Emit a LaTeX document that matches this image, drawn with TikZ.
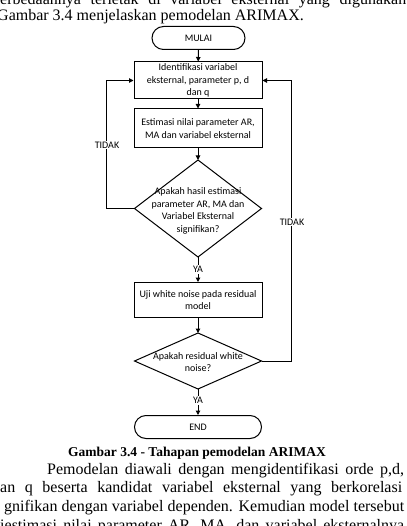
\documentclass[tikz,border=0pt]{standalone}
\usepackage{fontspec}
\setmainfont{Liberation Serif}
\newfontfamily\fc{Carlito}
\usetikzlibrary{arrows.meta,shapes.geometric}
\begin{document}
\begin{tikzpicture}[x=1pt,y=-1pt,
  flow/.style={line width=1pt},
  arr/.style={flow,-{Triangle[length=4.5pt,width=4.5pt]}},
  term/.style={draw,line width=1pt,rounded corners=11.5pt,minimum height=23pt,inner sep=0pt,font=\fc\fontsize{10}{12.5}\selectfont},
  pbox/.style={draw,line width=1pt,minimum width=128pt,inner sep=0pt,align=center,font=\fc\fontsize{10}{12.5}\selectfont},
  dshape/.style={draw,line width=1pt,diamond,inner sep=0pt,outer sep=0pt},
  dtext/.style={align=center,inner sep=0pt,font=\fc\fontsize{10}{12.5}\selectfont},
  lbl/.style={fill=white,inner sep=1pt,font=\fc\fontsize{10}{12}\selectfont},
  body/.style={anchor=base west,inner sep=0pt,font=\fontsize{16}{18}\selectfont},
  captext/.style={anchor=base,inner sep=0pt,font=\bfseries\fontsize{13.5}{16}\selectfont}
]
\path[use as bounding box] (0,0) rectangle (406,526);
\clip (0,0) rectangle (406,526);
\fill[white] (0,0) rectangle (406,526);

% surrounding page text
\node[body] (t0) at (0,4.5) {\makebox[410pt][s]{erbedaannya terletak di variabel eksternal yang digunakan.}};
\node[body] (t1) at (-3,21) {Gambar 3.4 menjelaskan pemodelan ARIMAX.};

% flowchart
\node[term,minimum width=93pt] (mulai) at (198.5,38) {MULAI};
\node[pbox,minimum height=37pt] (b1) at (198,80.5) {Identifikasi variabel\\eksternal, parameter p, d\\dan q};
\node[pbox,minimum height=39pt] (b2) at (198,128.5) {Estimasi nilai parameter AR,\\MA dan variabel eksternal};
\node[dshape,minimum width=127pt,minimum height=97pt] (d1) at (198,208.5) {};
\node[dtext] (d1t) at (198,211) {Apakah hasil estimasi\\parameter AR, MA dan\\Variabel Eksternal\\signifikan?};
\node[pbox,minimum height=35pt] (b3) at (198,300) {Uji white noise pada residual\\model};
\node[dshape,minimum width=127pt,minimum height=56pt] (d2) at (198,361) {};
\node[dtext] (d2t) at (198,362) {Apakah residual white\\noise?};
\node[term,minimum width=127pt] (end) at (198,427) {END};

\coordinate (lx) at (106,0);
\coordinate (rx) at (291,0);

\draw[arr] (mulai) -- (b1);
\draw[arr] (b1) -- (b2);
\draw[arr] (b2) -- (d1);
\draw[arr] (d1) -- node[lbl] (ya1) {YA} (b3);
\draw[arr] (b3) -- (d2);
\draw[arr] (d2) -- node[lbl,pos=0.45] (ya2) {YA} (end);

\draw[arr] (d1.west) -| (lx |- b1.west) -- (b1.west);
\draw[arr] (d2.east) -| (rx |- b1.east) -- (b1.east);
\node[lbl] (tl) at (107,145) {TIDAK};
\node[lbl] (tr) at (292,222) {TIDAK};

% caption and paragraph
\node[captext] (caption) at (197,456) {Gambar 3.4 - Tahapan pemodelan ARIMAX};
\node[body] (p1) at (47,474) {\makebox[357pt][s]{Pemodelan diawali dengan mengidentifikasi orde p,d,}};
\node[body] (p2) at (0,492.5) {\makebox[402pt][s]{an q beserta kandidat variabel eksternal yang berkorelasi}};
\node[body] (p3) at (4,511) {\makebox[400pt][s]{gnifikan dengan variabel dependen. Kemudian model tersebut}};
\node[body] (p4) at (0,530) {\makebox[404pt][s]{iestimasi nilai parameter AR, MA, dan variabel eksternalnya}};
\end{tikzpicture}
\end{document}
